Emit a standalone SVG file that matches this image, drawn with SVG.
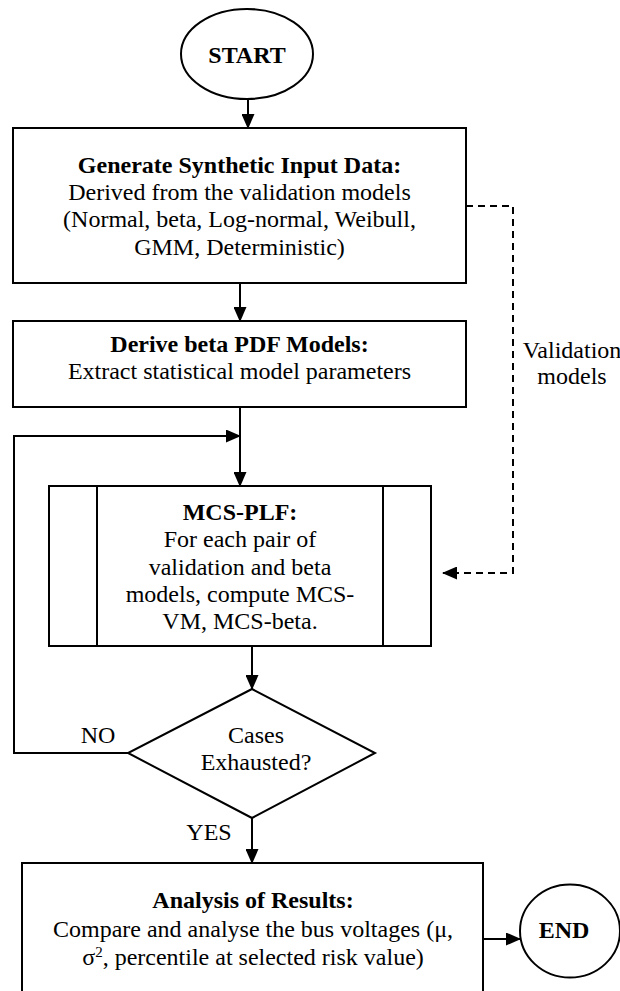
<svg xmlns="http://www.w3.org/2000/svg" width="620" height="991" viewBox="0 0 620 991">
<defs>
<marker id="ah" markerUnits="userSpaceOnUse" markerWidth="15" markerHeight="13" refX="14" refY="6.5" orient="auto"><path d="M0,0 L15,6.5 L0,13 z" fill="#000"/></marker>
<style>
.s{fill:#fff;stroke:#000;stroke-width:2}
.t{font-family:"Liberation Serif","Times New Roman",serif;font-size:24px;fill:#000;text-anchor:middle}
.b{font-weight:bold}
.c{fill:none;stroke:#000;stroke-width:2}
.d{fill:none;stroke:#000;stroke-width:2;stroke-dasharray:7 5}
</style>
</defs>
<rect width="620" height="991" fill="#fff"/>
<g id="connectors">
<line class="c" x1="248" y1="99" x2="248" y2="128" marker-end="url(#ah)"/>
<line class="c" x1="240" y1="283" x2="240" y2="321" marker-end="url(#ah)"/>
<line class="c" x1="240" y1="407" x2="240" y2="486" marker-end="url(#ah)"/>
<polyline class="c" points="128,753 14,753 14,436 240,436" marker-end="url(#ah)"/>
<polyline class="d" points="466,206 513,206 513,573 443,573" marker-end="url(#ah)"/>
<line class="c" x1="252" y1="646" x2="252" y2="689" marker-end="url(#ah)"/>
<line class="c" x1="252" y1="818" x2="252" y2="863" marker-end="url(#ah)"/>
<line class="c" x1="483" y1="939" x2="520" y2="939" marker-end="url(#ah)"/>
<text class="t" x="572" y="358" font-size="21">Validation</text>
<text class="t" x="572" y="384" font-size="21">models</text>
<text class="t" x="98" y="743">NO</text>
<text class="t" x="209" y="840">YES</text>
</g>
<g id="start">
<ellipse class="s" cx="247" cy="54" rx="66" ry="45"/>
<text class="t b" x="247" y="63">START</text>
</g>
<g id="generate">
<rect class="s" x="13" y="128" width="453" height="155"/>
<text class="t b" x="239.5" y="173">Generate Synthetic Input Data:</text>
<text class="t" x="239.5" y="200">Derived from the validation models</text>
<text class="t" x="239.5" y="227">(Normal, beta, Log-normal, Weibull,</text>
<text class="t" x="239.5" y="255">GMM, Deterministic)</text>
</g>
<g id="derive">
<rect class="s" x="13" y="321" width="453" height="86"/>
<text class="t b" x="239.5" y="352">Derive beta PDF Models:</text>
<text class="t" x="239.5" y="379">Extract statistical model parameters</text>
</g>
<g id="mcs">
<rect class="s" x="49" y="486" width="382" height="160"/>
<line class="c" x1="97" y1="486" x2="97" y2="646"/>
<line class="c" x1="383" y1="486" x2="383" y2="646"/>
<text class="t b" x="240" y="520">MCS-PLF:</text>
<text class="t" x="240" y="547">For each pair of</text>
<text class="t" x="240" y="575">validation and beta</text>
<text class="t" x="240" y="602">models, compute MCS-</text>
<text class="t" x="240" y="629">VM, MCS-beta.</text>
</g>
<g id="decision">
<polygon class="s" points="252,689 375,753 252,818 128,753"/>
<text class="t" x="256" y="743">Cases</text>
<text class="t" x="256" y="770">Exhausted?</text>
</g>
<g id="analysis">
<rect class="s" x="22" y="863" width="461" height="140"/>
<text class="t b" x="253" y="908">Analysis of Results:</text>
<text class="t" x="253" y="937">Compare and analyse the bus voltages (μ,</text>
<text class="t" x="253" y="965">σ<tspan font-size="15" dy="-8">2</tspan><tspan dy="8">, percentile at selected risk value)</tspan></text>
</g>
<g id="end">
<ellipse class="s" cx="570" cy="931" rx="50" ry="46.5"/>
<text class="t b" x="564" y="938">END</text>
</g>
</svg>
